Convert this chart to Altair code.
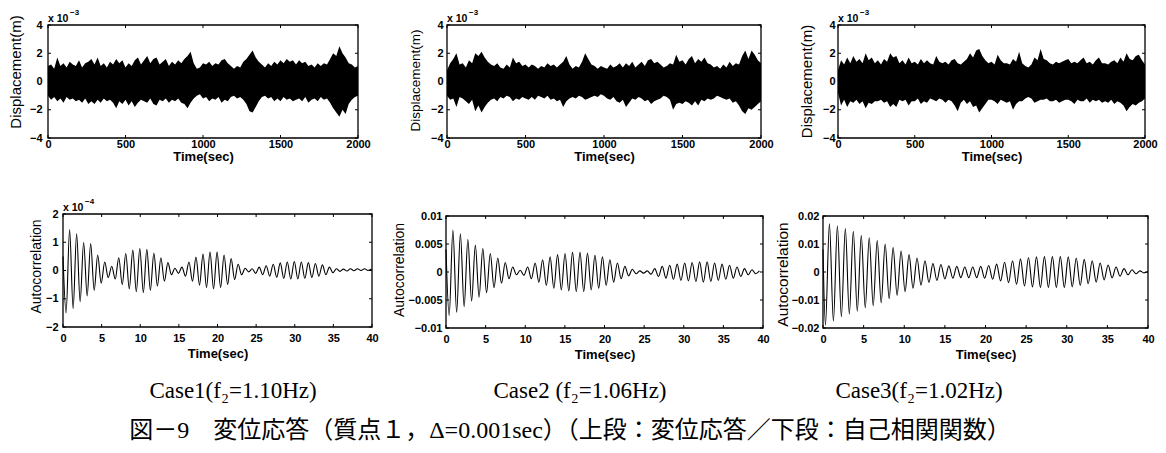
import altair as alt
import pandas as pd

W, H = 1150, 437
FONT = "Liberation Sans"
SERIF = "Liberation Serif, Noto Sans CJK JP"

# ---------------- data ----------------
TOP_T = list(range(0, 2001, 20))  # sec

# displacement envelopes (x 1e-3 m), read every 20 s
TOP1_HI = [1.1, 1.2, 0.9, 1.7, 1.1, 1.3, 1.0, 1.4, 1.2, 1.1,
           1.5, 1.0, 1.3, 1.4, 1.6, 1.2, 1.7, 1.1, 1.3, 1.0,
           1.4, 1.2, 1.6, 1.3, 1.5, 1.0, 1.3, 1.1, 1.5, 1.7,
           1.2, 1.5, 1.8, 1.3, 1.6, 1.7, 1.2, 1.4, 1.6, 1.1,
           1.4, 1.2, 1.5, 1.3, 1.6, 1.8, 2.1, 1.3, 0.9, 1.0,
           1.3, 1.2, 1.4, 1.1, 1.3, 1.2, 1.5, 1.6, 1.3, 1.1,
           0.9, 1.1, 1.0, 1.4, 1.6, 1.9, 2.2, 1.7, 1.4, 1.2,
           1.0, 1.3, 1.1, 1.4, 1.2, 1.5, 1.3, 1.6, 1.4, 1.5,
           1.2, 1.5, 1.3, 1.4, 1.1, 1.2, 1.0, 1.3, 1.1, 1.3,
           1.2, 1.6, 2.0, 1.8, 2.5, 2.0, 1.7, 1.3, 1.2, 1.0,
           1.1]
TOP1_LO = [-1.0, -1.3, -1.1, -1.4, -1.2, -1.5, -1.1, -1.3, -1.2, -1.4,
           -1.3, -1.5, -1.2, -1.6, -1.4, -1.6, -1.3, -1.5, -1.2, -1.4,
           -1.3, -1.5, -1.9, -1.4, -1.6, -1.3, -1.7, -1.4, -1.8, -1.5,
           -1.3, -1.4, -1.5, -1.2, -1.6, -1.7, -1.3, -1.4, -1.2, -1.5,
           -1.3, -1.4, -1.2, -1.5, -1.6, -1.9, -1.5, -1.2, -1.0, -0.9,
           -1.2, -1.1, -1.4, -1.2, -1.3, -1.1, -1.5, -1.3, -1.4, -1.1,
           -1.0, -1.2, -1.1, -1.3, -1.6, -2.1, -2.2, -1.8, -1.4, -1.1,
           -1.0, -1.2, -1.1, -1.4, -1.2, -1.4, -1.1, -1.3, -1.2, -1.4,
           -1.3, -1.2, -1.4, -1.1, -1.5, -1.3, -1.2, -1.4, -1.1, -1.3,
           -1.2, -1.5, -1.9, -2.2, -2.5, -2.0, -2.3, -1.6, -1.3, -1.1,
           -1.0]
TOP2_HI = [0.8, 1.3, 1.6, 2.0, 1.2, 1.3, 1.0, 1.5, 1.3, 2.0,
           1.8, 2.1, 1.7, 1.4, 1.2, 1.1, 1.3, 1.0, 0.9, 1.2,
           1.0, 1.7, 1.3, 1.4, 1.1, 1.2, 1.0, 1.2, 1.1, 0.9,
           1.1, 1.0, 1.3, 1.1, 1.2, 1.0, 1.2, 1.4, 1.8, 1.2,
           0.9, 1.1, 1.0, 1.4, 2.0, 1.6, 1.2, 1.1, 0.9, 1.1,
           1.0, 0.9, 1.2, 1.0, 1.1, 1.3, 1.0, 1.3, 1.1, 1.4,
           1.0, 1.2, 1.4, 1.1, 1.5, 1.6, 1.3, 1.4, 1.2, 1.0,
           1.1, 1.3, 1.2, 1.9, 1.4, 1.5, 1.2, 1.6, 1.8, 1.3,
           1.6, 1.4, 1.7, 1.3, 1.2, 1.0, 1.1, 0.9, 1.2, 1.0,
           1.4, 1.1, 1.3, 1.2, 1.8, 2.2, 1.6, 2.2, 1.9, 1.5,
           1.3]
TOP2_LO = [-1.0, -1.3, -1.2, -1.8, -1.1, -1.2, -1.4, -1.6, -1.3, -2.1,
           -1.7, -2.2, -1.8, -1.5, -1.3, -1.2, -1.4, -1.1, -1.2, -1.0,
           -1.1, -1.4, -1.2, -1.3, -1.1, -1.2, -1.3, -1.1, -1.3, -1.0,
           -1.1, -1.2, -1.0, -1.3, -1.2, -1.4, -1.3, -1.8, -1.4, -1.2,
           -1.1, -1.2, -1.0, -1.1, -1.3, -1.2, -1.1, -1.0, -1.1, -0.9,
           -1.0, -1.2, -1.3, -1.1, -1.4, -1.5, -1.3, -1.8, -1.5, -1.2,
           -1.3, -1.1, -1.2, -1.4, -1.3, -1.6, -1.4, -1.3, -1.2, -1.0,
           -1.1, -1.3, -2.0, -1.6, -1.5, -1.6, -1.4, -1.5, -1.7, -1.4,
           -1.7, -1.3, -1.4, -1.2, -1.3, -1.2, -1.0, -1.1, -1.2, -1.3,
           -1.2, -1.5, -1.4, -1.7, -2.1, -2.3, -1.9, -2.0, -1.8, -1.6,
           -1.4]
TOP3_HI = [0.8, 1.5, 1.2, 1.7, 1.3, 1.8, 1.4, 1.6, 1.3, 2.0,
           1.5, 1.7, 1.3, 1.5, 1.2, 1.6, 1.4, 2.0, 1.7, 1.8,
           1.3, 1.5, 1.2, 1.7, 1.3, 1.4, 1.2, 1.6, 1.3, 1.5,
           1.3, 1.2, 1.8, 1.4, 1.3, 1.4, 1.2, 1.5, 1.6, 1.3,
           1.2, 1.4, 1.6, 2.0, 1.7, 2.2, 2.3, 1.8, 1.5, 1.3,
           1.4, 1.2, 1.9, 1.5, 1.3, 1.3, 1.2, 1.6, 1.4, 2.1,
           1.3, 1.1, 1.0, 1.2, 1.7, 1.5, 2.3, 1.6, 1.5, 1.3,
           1.2, 1.4, 1.3, 1.4, 1.5, 1.6, 1.3, 1.4, 1.3, 1.5,
           1.7, 1.3, 1.4, 1.2, 1.5, 1.7, 1.3, 1.3, 1.2, 1.4,
           1.5, 1.3, 1.7, 1.4, 2.0, 1.6, 1.5, 1.8, 1.9, 1.5,
           1.2]
TOP3_LO = [-0.8, -1.7, -1.3, -1.8, -1.4, -1.5, -1.3, -1.6, -1.4, -1.9,
           -1.5, -1.6, -1.4, -1.4, -1.3, -1.5, -1.4, -1.8, -1.6, -1.8,
           -1.3, -1.4, -1.3, -1.7, -1.4, -1.4, -1.2, -1.6, -1.4, -1.5,
           -1.2, -1.3, -1.4, -1.2, -1.3, -1.5, -1.3, -1.4, -1.7, -2.1,
           -1.5, -1.3, -1.6, -1.4, -1.8, -1.7, -2.2, -1.9, -1.6, -1.3,
           -1.3, -1.4, -1.6, -1.3, -1.4, -1.5, -1.4, -2.0, -1.6, -1.4,
           -1.4, -1.2, -1.1, -1.2, -1.5, -1.4, -1.3, -1.3, -1.2, -1.4,
           -1.4, -1.3, -1.5, -1.4, -1.3, -1.3, -1.4, -1.6, -1.3, -1.4,
           -1.4, -1.2, -1.5, -1.3, -1.4, -1.3, -1.5, -1.4, -1.5, -1.3,
           -1.6, -1.4, -1.5, -1.7, -2.1, -1.8, -1.6, -1.7, -1.5, -1.4,
           -1.2]

# autocorrelation: successive extrema (every half period)
AC1_START, AC1_HALF, AC1_ZERO = 0.40, 0.4545, 0.5     # values x 1e-4
AC1_EXT = [-1.5, 1.45, -1.35, 1.3, -1.1, 1.0, -0.9, 0.95, -0.7, 0.55,
           -0.45, 0.3, -0.25, 0.15, -0.3, 0.45, -0.5, 0.6, -0.65, 0.72,
           -0.75, 0.78, -0.78, 0.75, -0.7, 0.62, -0.55, 0.45, -0.38, 0.28,
           -0.15, 0.08, -0.1, 0.12, -0.2, 0.3, -0.38, 0.48, -0.52, 0.58,
           -0.6, 0.65, -0.65, 0.65, -0.6, 0.55, -0.5, 0.42, -0.32, 0.22,
           -0.15, 0.08, -0.05, 0.06, -0.1, 0.12, -0.15, 0.17, -0.2, 0.22,
           -0.24, 0.27, -0.28, 0.3, -0.3, 0.32, -0.3, 0.3, -0.28, 0.28,
           -0.25, 0.25, -0.2, 0.2, -0.15, 0.12, -0.08, 0.06, -0.03, 0.05,
           -0.02, 0.06, -0.01, 0.06, 0.0, 0.06, 0.0, 0.05]
AC2_START, AC2_HALF, AC2_ZERO = 0.40, 0.4717, 0.004
AC2_EXT = [-0.0078, 0.0075, -0.0072, 0.0068, -0.0062, 0.0058, -0.0052, 0.0048, -0.0045, 0.0042,
           -0.0037, 0.0033, -0.0028, 0.0025, -0.002, 0.0017, -0.0012, 0.0009, -0.0005, 0.0003,
           -0.0006, 0.0009, -0.0012, 0.0016, -0.0018, 0.0022, -0.0024, 0.0027, -0.0029, 0.0031,
           -0.0032, 0.0033, -0.0034, 0.0035, -0.0035, 0.0035, -0.0035, 0.0034, -0.0032, 0.003,
           -0.0029, 0.0027, -0.0024, 0.0022, -0.0018, 0.0016, -0.0012, 0.001, -0.0007, 0.0005,
           -0.0003, 0.0002, -0.0002, 0.0002, -0.0004, 0.0006, -0.0008, 0.001, -0.0011, 0.0012,
           -0.0013, 0.0014, -0.0015, 0.0016, -0.0016, 0.0017, -0.0017, 0.0018, -0.0018, 0.0018,
           -0.0017, 0.0016, -0.0015, 0.0014, -0.0013, 0.0012, -0.0011, 0.0009, -0.0008, 0.0006,
           -0.0005, 0.0004, -0.0003, 0.0002]
AC3_START, AC3_HALF, AC3_ZERO = 0.30, 0.49, 0.008
AC3_EXT = [-0.019, 0.0172, -0.0175, 0.0165, -0.016, 0.0155, -0.015, 0.0145, -0.014, 0.013,
           -0.0128, 0.0122, -0.012, 0.0112, -0.011, 0.01, -0.0095, 0.0087, -0.0083, 0.0075,
           -0.007, 0.0062, -0.0058, 0.005, -0.0047, 0.004, -0.0037, 0.003, -0.003, 0.0027,
           -0.0025, 0.0022, -0.0022, 0.002, -0.002, 0.0018, -0.002, 0.0018, -0.002, 0.002,
           -0.0022, 0.0023, -0.0026, 0.0028, -0.0032, 0.0035, -0.0038, 0.004, -0.0044, 0.0047,
           -0.005, 0.0052, -0.0053, 0.0054, -0.0055, 0.0055, -0.0055, 0.0055, -0.0055, 0.0055,
           -0.0055, 0.0054, -0.0053, 0.005, -0.0048, 0.0045, -0.0042, 0.004, -0.0036, 0.0032,
           -0.0028, 0.0025, -0.0021, 0.0018, -0.0015, 0.0012, -0.001, 0.0008, -0.0006, 0.0004,
           -0.0003, 0.0001]

TOP_XTICKS = [0, 500, 1000, 1500, 2000]
TOP_YTICKS = [-4, -2, 0, 2, 4]
BOT_XTICKS = [0, 5, 10, 15, 20, 25, 30, 35, 40]
BOT1_YTICKS = [-2, -1, 0, 1, 2]
BOT2_YTICKS = [-0.01, -0.005, 0, 0.005, 0.01]
BOT3_YTICKS = [-0.02, -0.01, 0, 0.01, 0.02]

CAPTIONS = ["Case1(f₂=1.10Hz)", "Case2 (f₂=1.06Hz)", "Case3(f₂=1.02Hz)"]
CAPTION_X = [225, 572, 911]
FIG_CAPTION = "図－9　変位応答（質点１，Δ=0.001sec）（上段：変位応答／下段：自己相関関数）"


def ac_frame(start, half, zero, ext):
    t = [0.0] + [round(start + k * half, 4) for k in range(len(ext))]
    v = [zero] + ext
    return pd.DataFrame({"t": t, "v": v})


def panel(main, xdom, ydom, geom, xticks, yticks, yfmt, ytitle, xlab_pad, ylab_pad,
          xtitle_y, ytitle_x, ytitle_y, ytitle_size, expo=None):
    xl, xr, yt, yb = geom
    xs = alt.Scale(domain=xdom, range=[xl, xr], nice=False, zero=False)
    ys = alt.Scale(domain=ydom, range=[yb, yt], nice=False, zero=False)
    xaxis = alt.Axis(orient="bottom", offset=yb - H, values=xticks, format="d",
                     ticks=False, domain=False, grid=False, labelFont=FONT,
                     labelFontWeight="bold", labelFontSize=11, labelColor="black",
                     labelPadding=xlab_pad, labelFlush=False, labelOverlap=False,
                     title="Time(sec)", titleFont=FONT, titleFontWeight="bold",
                     titleFontSize=13, titleColor="black", titleY=xtitle_y,
                     titleBaseline="middle")
    yaxis = alt.Axis(orient="left", offset=-xl, values=yticks, format=yfmt,
                     ticks=False, domain=False, grid=False, labelFont=FONT,
                     labelFontWeight="bold", labelFontSize=11, labelColor="black",
                     labelPadding=ylab_pad, labelFlush=False, labelOverlap=False,
                     title=ytitle, titleFont=FONT, titleFontWeight="normal",
                     titleFontSize=ytitle_size, titleColor="black", titleAngle=270,
                     titleX=ytitle_x, titleY=ytitle_y, titleBaseline="middle",
                     titleAlign="center")

    def X(f):
        return alt.X(f, scale=xs, axis=xaxis)

    def Y(f):
        return alt.Y(f, scale=ys, axis=yaxis)

    kind, df = main
    if kind == "area":
        base = alt.Chart(df).mark_area(color="black", interpolate="linear").encode(
            x=X("t:Q"), y=Y("lo:Q"), y2="hi:Q")
    else:
        base = alt.Chart(df).mark_line(color="black", strokeWidth=1.1,
                                       interpolate="monotone").encode(
            x=X("t:Q"), y=Y("v:Q"))
    box = alt.Chart(pd.DataFrame({"x0": [xdom[0]], "x1": [xdom[1]],
                                  "y0": [ydom[0]], "y1": [ydom[1]]})).mark_rect(
        fillOpacity=0, stroke="black", strokeWidth=1.3).encode(
        x=X("x0:Q"), x2="x1:Q", y=Y("y0:Q"), y2="y1:Q")
    ydf = pd.DataFrame({"v": yticks})
    xdf = pd.DataFrame({"v": xticks})
    tl = alt.Chart(ydf).mark_rule(color="black", strokeWidth=1).encode(
        y=Y("v:Q"), x=alt.value(xl), x2=alt.value(xl + 3))
    tr = alt.Chart(ydf).mark_rule(color="black", strokeWidth=1).encode(
        y=Y("v:Q"), x=alt.value(xr - 3), x2=alt.value(xr))
    tb = alt.Chart(xdf).mark_rule(color="black", strokeWidth=1).encode(
        x=X("v:Q"), y=alt.value(yb - 3), y2=alt.value(yb))
    tt = alt.Chart(xdf).mark_rule(color="black", strokeWidth=1).encode(
        x=X("v:Q"), y=alt.value(yt), y2=alt.value(yt + 3))
    layers = [base, box, tl, tr, tb, tt]
    if expo is not None:
        edf = pd.DataFrame({"x": [xdom[0]], "y": [ydom[1]], "a": ["x 10"], "b": [expo]})
        layers.append(alt.Chart(edf).mark_text(
            align="left", baseline="alphabetic", font=FONT, fontWeight="bold",
            fontSize=10.5, dy=-3, color="black").encode(
            x=X("x:Q"), y=Y("y:Q"), text="a:N"))
        layers.append(alt.Chart(edf).mark_text(
            align="left", baseline="alphabetic", font=FONT, fontWeight="bold",
            fontSize=8, dx=22, dy=-10, color="black").encode(
            x=X("x:Q"), y=Y("y:Q"), text="b:N"))
    return alt.layer(*layers)


top_df = [pd.DataFrame({"t": TOP_T, "hi": hi, "lo": lo})
          for hi, lo in [(TOP1_HI, TOP1_LO), (TOP2_HI, TOP2_LO), (TOP3_HI, TOP3_LO)]]

p1 = panel(("area", top_df[0]), [0, 2000], [-4, 4], (40, 350, 17, 130),
           TOP_XTICKS, TOP_YTICKS, "d", "Displacement(m)", 0, 6, 18, -32.5, 63.5, 15, "−3")
p2 = panel(("area", top_df[1]), [0, 2000], [-4, 4], (439, 753, 17, 130),
           TOP_XTICKS, TOP_YTICKS, "d", "Displacement(m)", 0, 4, 18, -32, 72, 13.5, "−3")
p3 = panel(("area", top_df[2]), [0, 2000], [-4, 4], (830, 1137, 17, 130),
           TOP_XTICKS, TOP_YTICKS, "d", "Displacement(m)", 0, 3, 18, -32, 73, 15, "−3")
p4 = panel(("line", ac_frame(AC1_START, AC1_HALF, AC1_ZERO, AC1_EXT)), [0, 40], [-2, 2],
           (55, 364, 206, 319), BOT_XTICKS, BOT1_YTICKS, "d", "Autocorrelation",
           5, 5, 26, -27, 258, 14, "−4")
p5 = panel(("line", ac_frame(AC2_START, AC2_HALF, AC2_ZERO, AC2_EXT)), [0, 40], [-0.01, 0.01],
           (438, 755, 208, 320), BOT_XTICKS, BOT2_YTICKS, "~g", "Autocorrelation",
           5, 4, 26, -47, 261.5, 14)
p6 = panel(("line", ac_frame(AC3_START, AC3_HALF, AC3_ZERO, AC3_EXT)), [0, 40], [-0.02, 0.02],
           (815, 1140, 208, 320), BOT_XTICKS, BOT3_YTICKS, "~g", "Autocorrelation",
           5, 4, 26, -40.5, 266, 15.5)

cap_df = pd.DataFrame({"label": CAPTIONS, "px": CAPTION_X})
caps = alt.Chart(cap_df).mark_text(font=SERIF, fontSize=23, color="black",
                                   baseline="middle", align="center").encode(
    x=alt.X("px:Q", scale=None), y=alt.value(383), text="label:N")
fig_cap = alt.Chart(pd.DataFrame({"label": [FIG_CAPTION]})).mark_text(
    font=SERIF, fontSize=24, color="black", baseline="middle", align="center").encode(
    x=alt.value(562), y=alt.value(423), text="label:N")

chart = alt.layer(p1, p2, p3, p4, p5, p6, caps, fig_cap).resolve_scale(
    x="independent", y="independent"
).properties(
    width=W, height=H, padding=0,
    autosize=alt.AutoSizeParams(type="none"),
).configure_view(stroke=None)

chart.save("out.html", embed_options={"renderer": "svg", "actions": False})
